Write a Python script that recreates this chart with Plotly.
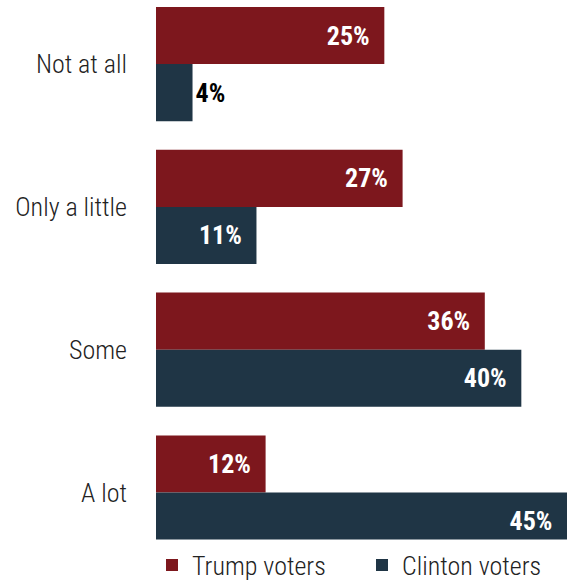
import plotly.graph_objects as go

categories = ["Not at all", "Only a little", "Some", "A lot"]
trump_values = [25, 27, 36, 12]
clinton_values = [4, 11, 40, 45]
series_names = ["Trump voters", "Clinton voters"]
colors = ["#7D171D", "#1F3545"]
legend_ids = ["legend", "legend2"]

FONT = "Roboto Condensed, Liberation Sans Narrow, DejaVu Sans Condensed, Roboto, sans-serif"

def positions(vals):
    return ["inside" if v >= 8 else "outside" for v in vals]

fig = go.Figure()
for name, vals, col, lg in zip(series_names, [trump_values, clinton_values], colors, legend_ids):
    fig.add_trace(go.Bar(
        y=categories, x=vals, name=name, orientation="h",
        marker=dict(color=col, line=dict(width=0)),
        text=[f"{v}%" for v in vals],
        textposition=positions(vals),
        insidetextanchor="end",
        insidetextfont=dict(color="white", size=26, family=FONT, weight="bold"),
        outsidetextfont=dict(color="black", size=26, family=FONT, weight="bold"),
        texttemplate="%{text}\u2002",
        cliponaxis=False,
        legend=lg,
    ))

leg_common = dict(orientation="h", xref="container", yref="container",
                  xanchor="left", y=17/582, yanchor="middle",
                  font=dict(size=26, color="#222", weight=300),
                  itemwidth=30, bgcolor="rgba(0,0,0,0)")

fig.update_layout(
    width=569, height=582,
    margin=dict(l=156, r=2, t=7, b=31),
    barmode="group", bargap=0.2, bargroupgap=0,
    plot_bgcolor="white", paper_bgcolor="white",
    font=dict(family=FONT, size=26, color="#222"),
    showlegend=True,
    legend=dict(x=152/569, **leg_common),
    legend2=dict(x=362/569, **leg_common),
    uniformtext=dict(mode=False),
)
fig.update_xaxes(range=[0, 45], visible=False, showgrid=False, zeroline=False)
fig.update_yaxes(categoryorder="array", categoryarray=categories,
                 range=[3.329, -0.4], showgrid=False, zeroline=False, showline=False,
                 ticks="", ticklabelstandoff=28,
                 tickfont=dict(size=26, color="#222", family=FONT, weight=300))

fig.write_html("out.html")
